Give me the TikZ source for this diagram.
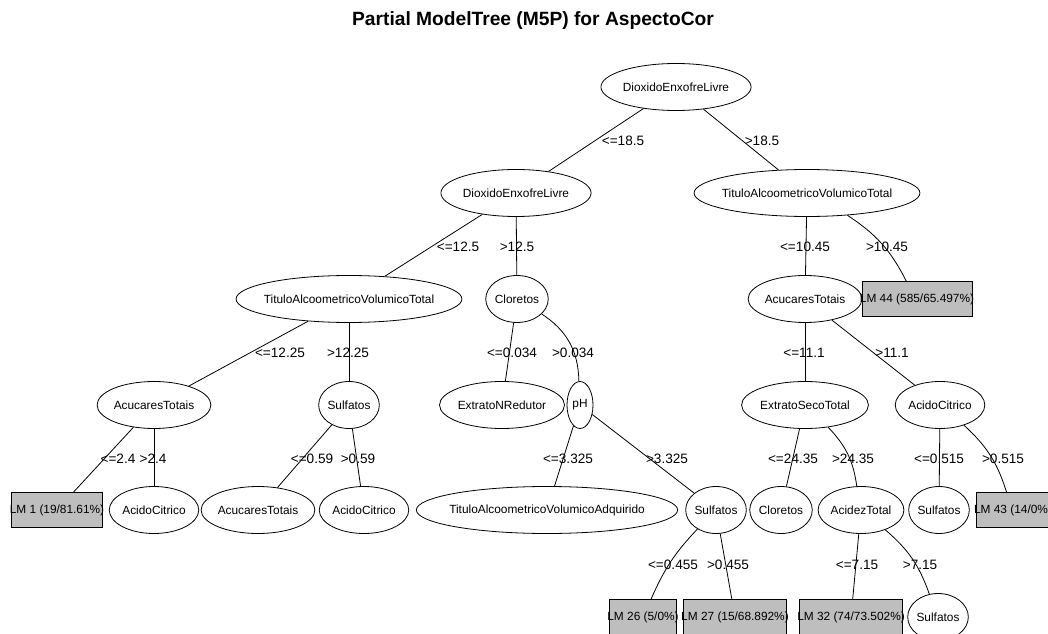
\documentclass[tikz,border=0pt]{standalone}
\usepackage{fontspec}
\setmainfont{Liberation Sans}
\usetikzlibrary{shapes.geometric}
\definecolor{lmgray}{HTML}{BEBEBE}

\begin{document}
\begin{tikzpicture}[x=0.75pt,y=-0.75pt,line width=0.6pt,
  el/.style={ellipse,draw,inner xsep=0pt,inner ysep=0pt,minimum height=35.25pt,
    minimum width=19.5pt,font=\fontsize{8.9}{10.7}\selectfont},
  longel/.style={el,inner xsep=-4pt},
  lm/.style={rectangle,draw,fill=lmgray,inner xsep=-1.5pt,minimum height=26.25pt,
    font=\fontsize{8.9}{10.7}\selectfont},
  lbl/.style={inner sep=0pt,font=\fontsize{10.2}{12.2}\selectfont}]
  \useasboundingbox (0,0) rectangle (1048,634);
  \clip (0,0) rectangle (1048,634);
  \node[font=\bfseries\fontsize{14.4}{17.3}\selectfont] (titulo) at (533,21) {Partial ModelTree (M5P) for AspectoCor};
  % nivel 1 e 2
  \node[el] (raiz) at (676,87) {DioxidoEnxofreLivre};
  \node[el] (dio2) at (516,193) {DioxidoEnxofreLivre};
  \node[longel] (tit1) at (807,193) {TituloAlcoometricoVolumicoTotal};
  % nivel 3
  \node[longel] (tit2) at (349,299) {TituloAlcoometricoVolumicoTotal};
  \node[el] (clo1) at (517,299) {Cloretos};
  \node[el] (acu1) at (805,299) {AcucaresTotais};
  \node[lm] (lm44) at (917,299) {LM 44 (585/65.497\%)};
  % nivel 4
  \node[el] (acu2) at (154,405) {AcucaresTotais};
  \node[el] (sul1) at (349,405) {Sulfatos};
  \node[el] (ext1) at (502,405) {ExtratoNRedutor};
  \node[el] (ph) at (580,405) {pH};
  \node[el] (ext2) at (805,405) {ExtratoSecoTotal};
  \node[el] (aci1) at (940,405) {AcidoCitrico};
  % nivel 5
  \node[lm] (lm1) at (57,510) {LM 1 (19/81.61\%)};
  \node[el] (aci2) at (154,510) {AcidoCitrico};
  \node[el] (acu3) at (258,510) {AcucaresTotais};
  \node[el] (aci3) at (364,510) {AcidoCitrico};
  \node[longel] (tit3) at (547,510) {TituloAlcoometricoVolumicoAdquirido};
  \node[el] (sul2) at (716,510) {Sulfatos};
  \node[el] (clo2) at (781,510) {Cloretos};
  \node[el] (acid) at (861,510) {AcidezTotal};
  \node[el] (sul3) at (939,510) {Sulfatos};
  \node[lm] (lm43) at (1013,510) {LM 43 (14/0\%)};
  % nivel 6
  \node[lm] (lm26) at (643,617) {LM 26 (5/0\%)};
  \node[lm] (lm27) at (735,617) {LM 27 (15/68.892\%)};
  \node[lm] (lm32) at (851,617) {LM 32 (74/73.502\%)};
  \node[el] (sul4) at (938,617) {Sulfatos};
  % ramos
  \draw (raiz) -- (dio2);
  \draw (raiz) -- (tit1);
  \draw (dio2) -- (tit2);
  \draw (dio2) -- (clo1);
  \draw (tit1) -- (acu1);
  \draw (tit1) to[bend left=15] (lm44);
  \draw (tit2) -- (acu2);
  \draw (tit2) -- (sul1);
  \draw (clo1) -- (ext1);
  \draw (clo1) to[bend left=28] (ph);
  \draw (acu1) -- (ext2);
  \draw (acu1) -- (aci1);
  \draw (acu2) -- (lm1);
  \draw (acu2) -- (aci2);
  \draw (sul1) -- (acu3);
  \draw (sul1) -- (aci3);
  \draw (ph) -- (tit3);
  \draw (ph) -- (sul2);
  \draw (ext2) -- (clo2);
  \draw (ext2) to[bend left=18] (acid);
  \draw (aci1) -- (sul3);
  \draw (aci1) to[bend left=15] (lm43);
  \draw (sul2) to[bend right=10] (lm26);
  \draw (sul2) -- (lm27);
  \draw (acid) -- (lm32);
  \draw (acid) to[bend left=15] (sul4);
  % rotulos
  \node[lbl] (r1) at (623,141) {<=18.5};
  \node[lbl] (r2) at (762,141) {>18.5};
  \node[lbl] (r3) at (458,247) {<=12.5};
  \node[lbl] (r4) at (517,247) {>12.5};
  \node[lbl] (r5) at (805,247) {<=10.45};
  \node[lbl] (r6) at (887,247) {>10.45};
  \node[lbl] (r7) at (280,353) {<=12.25};
  \node[lbl] (r8) at (348,353) {>12.25};
  \node[lbl] (r9) at (512,353) {<=0.034};
  \node[lbl] (r10) at (573,353) {>0.034};
  \node[lbl] (r11) at (804,353) {<=11.1};
  \node[lbl] (r12) at (892,353) {>11.1};
  \node[lbl] (r13) at (118,459) {<=2.4};
  \node[lbl] (r14) at (153,459) {>2.4};
  \node[lbl] (r15) at (312,459) {<=0.59};
  \node[lbl] (r16) at (358,459) {>0.59};
  \node[lbl] (r17) at (568,459) {<=3.325};
  \node[lbl] (r18) at (667,459) {>3.325};
  \node[lbl] (r19) at (793,459) {<=24.35};
  \node[lbl] (r20) at (853,459) {>24.35};
  \node[lbl] (r21) at (939,459) {<=0.515};
  \node[lbl] (r22) at (1003,459) {>0.515};
  \node[lbl] (r23) at (673,565) {<=0.455};
  \node[lbl] (r24) at (728,565) {>0.455};
  \node[lbl] (r25) at (857,565) {<=7.15};
  \node[lbl] (r26) at (920,565) {>7.15};
\end{tikzpicture}
\end{document}
